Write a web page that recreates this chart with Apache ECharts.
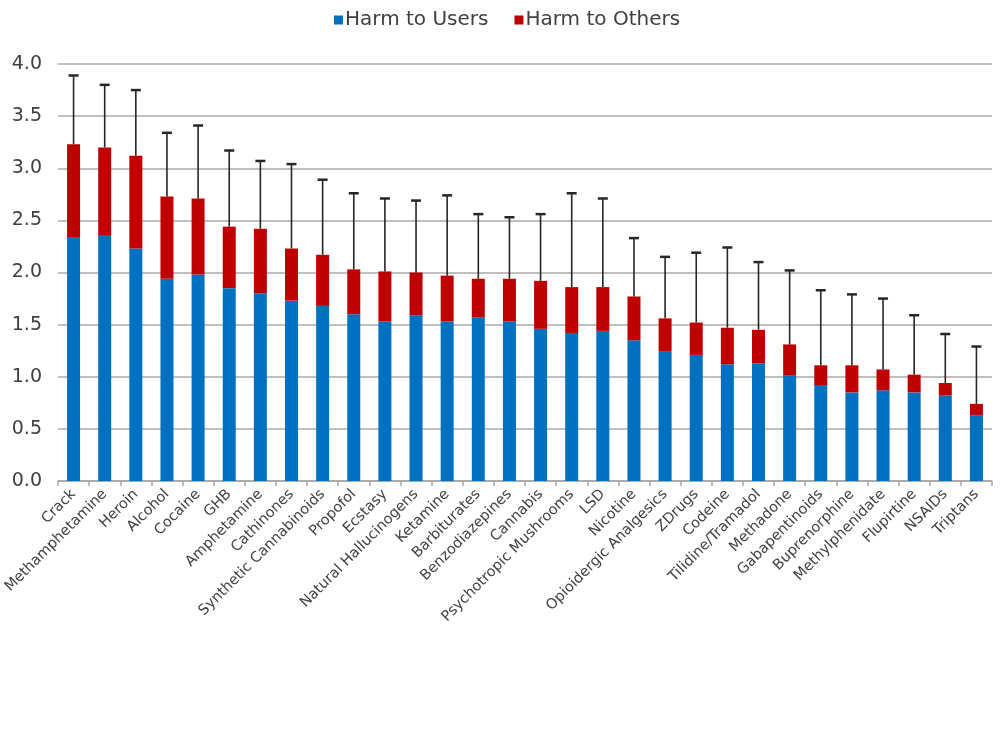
<!DOCTYPE html>
<html>
<head>
<meta charset="utf-8">
<script src="https://cdn.jsdelivr.net/npm/echarts@6/dist/echarts.min.js"></script>
<style>
  html, body { margin: 0; padding: 0; background: #fff; }
  #chart { width: 1000px; height: 750px; }
</style>
</head>
<body>
<div id="chart"></div>
<script>
// drug names, in the order of the bars
const drugs = ['Crack', 'Methamphetamine', 'Heroin', 'Alcohol', 'Cocaine', 'GHB', 'Amphetamine',
  'Cathinones', 'Synthetic Cannabinoids', 'Propofol', 'Ecstasy', 'Natural Hallucinogens', 'Ketamine',
  'Barbiturates', 'Benzodiazepines', 'Cannabis', 'Psychotropic Mushrooms', 'LSD', 'Nicotine',
  'Opioidergic Analgesics', 'ZDrugs', 'Codeine', 'Tilidine/Tramadol', 'Methadone', 'Gabapentinoids',
  'Buprenorphine', 'Methylphenidate', 'Flupirtine', 'NSAIDs', 'Triptans']

// blue part
const harmUsers = [2.34, 2.36, 2.23, 1.94, 1.98, 1.85, 1.80, 1.73, 1.68, 1.60, 1.53, 1.59, 1.53,
  1.57, 1.53, 1.46, 1.42, 1.44, 1.35, 1.24, 1.21, 1.12, 1.13, 1.01, 0.92, 0.85, 0.87, 0.85, 0.82, 0.63]
// red part (stacked on top)
const harmOthers = [0.89, 0.84, 0.89, 0.79, 0.73, 0.59, 0.62, 0.50, 0.49, 0.43, 0.48, 0.41, 0.44,
  0.37, 0.41, 0.46, 0.44, 0.42, 0.42, 0.32, 0.31, 0.35, 0.32, 0.30, 0.19, 0.26, 0.20, 0.17, 0.12, 0.11]
// top of the error bar
const errorTop = [3.89, 3.80, 3.75, 3.34, 3.41, 3.17, 3.07, 3.04, 2.89, 2.76, 2.71, 2.69, 2.74,
  2.56, 2.53, 2.56, 2.76, 2.71, 2.33, 2.15, 2.19, 2.24, 2.10, 2.02, 1.83, 1.79, 1.75, 1.59, 1.41, 1.29]

const yTicks = [0, 0.5, 1, 1.5, 2, 2.5, 3, 3.5, 4]

const FONT = 'DejaVu Sans'

// error bar data: [index, bar total, top]
let errData = drugs.map((d, i) => [i, +(harmUsers[i] + harmOthers[i]).toFixed(2), errorTop[i]])

let myChart = echarts.init(document.getElementById('chart'))
myChart.setOption({
  animation: false,
  textStyle: { fontFamily: FONT },
  legend: {
    top: 5,
    left: 329,
    itemWidth: 9,
    itemHeight: 9,
    itemGap: 26,
    icon: 'rect',
    textStyle: { fontSize: 20, color: '#404040', fontFamily: FONT, padding: [0, 0, 0, -3] },
    data: ['Harm to Users', 'Harm to Others']
  },
  grid: {
    left: 58,
    right: 8,
    top: 64,
    bottom: 269,
    containLabel: false
  },
  xAxis: {
    type: 'category',
    data: drugs,
    axisLine: { show: true, lineStyle: { color: '#a6a6a6', width: 1.5 } },
    axisTick: { show: true, length: 5, lineStyle: { color: '#a6a6a6', width: 1.5 } },
    axisLabel: {
      interval: 0,
      rotate: 45,
      fontSize: 14.5,
      color: '#404040',
      fontFamily: FONT,
      margin: 11
    }
  },
  yAxis: {
    type: 'value',
    min: yTicks[0],
    max: yTicks[yTicks.length - 1],
    interval: 0.5,
    axisLine: { show: false },
    axisTick: { show: false },
    axisLabel: {
      fontSize: 19,
      color: '#404040',
      fontFamily: FONT,
      margin: 16,
      formatter: v => v.toFixed(1)
    },
    splitLine: { lineStyle: { color: '#bfbfbf', width: 2 } }
  },
  series: [
    {
      name: 'Harm to Users',
      type: 'bar',
      stack: 'harm',
      barWidth: 13,
      itemStyle: { color: '#0070c0' },
      data: harmUsers
    },
    {
      name: 'Harm to Others',
      type: 'bar',
      stack: 'harm',
      barWidth: 13,
      itemStyle: { color: '#c00000' },
      data: harmOthers
    },
    {
      // 误差线
      type: 'custom',
      name: 'error',
      silent: true,
      z: 5,
      renderItem: (params, api) => {
        let x = api.value(0)
        let base = api.coord([x, api.value(1)])
        let top = api.coord([x, api.value(2)])
        let half = 5
        let style = { stroke: '#262626', lineWidth: 1.6 }
        return {
          type: 'group',
          children: [
            { type: 'line', shape: { x1: base[0], y1: base[1], x2: top[0], y2: top[1] }, style },
            { type: 'line', shape: { x1: top[0] - half, y1: top[1], x2: top[0] + half, y2: top[1] }, style: { stroke: '#262626', lineWidth: 2.5 } }
          ]
        }
      },
      encode: { x: 0, y: 2 },
      data: errData
    }
  ]
})
</script>
</body>
</html>
